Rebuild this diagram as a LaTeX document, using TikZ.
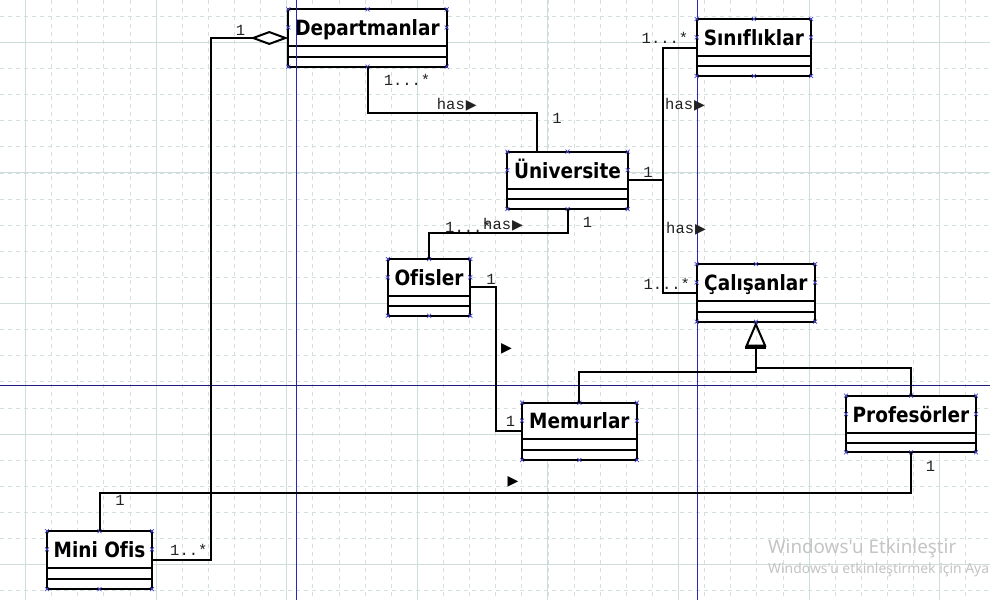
\documentclass[tikz,border=0pt]{standalone}
\usepackage{fontspec}
\setmainfont{Liberation Sans}
\newfontfamily\monofont{Liberation Mono}
\newfontfamily\symfont{DejaVu Sans}
\newfontfamily\namefont[FakeStretch=0.88,Ligatures=NoCommon]{DejaVu Sans Bold}
\newfontfamily\wmfont{Noto Sans}
\usetikzlibrary{arrows.meta}
\definecolor{gridc}{HTML}{D4E0E0}
\definecolor{gridm}{HTML}{CFDCDC}
\definecolor{guideblue}{HTML}{2828B4}
\definecolor{guidenavy}{HTML}{1E1E78}
\definecolor{labelc}{HTML}{222222}
\definecolor{handlec}{HTML}{4B4BD2}
\definecolor{wmc}{HTML}{C4C4C4}
\tikzset{
 minorgrid/.style={draw=gridc, line width=0.8pt, dash pattern=on 4pt off 4pt},
 majorgrid/.style={draw=gridm, line width=1pt},
 guide/.style={draw=guideblue, line width=1pt},
 guideh/.style={draw=guidenavy, line width=1pt},
 classbox/.style={draw=black, fill=white, line width=2pt, inner sep=0pt, outer sep=0pt, anchor=north west},
 divider/.style={draw=black, line width=2pt},
 classname/.style={font=\namefont\fontsize{21}{24}\selectfont, inner sep=0pt, anchor=base},
 assoc/.style={draw=black, line width=2pt},
 mult/.style={font=\monofont\fontsize{15.5}{17}\selectfont, text=labelc, inner sep=0pt},
 dirmark/.style={font=\symfont\fontsize{14}{14}\selectfont, text=black, inner sep=0pt},
 handle/.style={draw=handlec, line width=0.7pt},
 wmbig/.style={font=\wmfont\fontsize{18.8}{20}\selectfont, text=wmc, inner sep=0pt, anchor=base west},
 wmsmall/.style={font=\wmfont\fontsize{13.9}{15}\selectfont, text=wmc, inner sep=0pt, anchor=base west},
}
\newcommand\tri{{\symfont\fontsize{14}{14}\selectfont ▶}}
\newcommand\umlclass[8]{%
 \node[classbox, minimum width=#4pt-#2pt, minimum height=#5pt-#3pt] (#1) at (#2,#3) {};
 \draw[divider] (#2,#6) -- (#4,#6) (#2,#7) -- (#4,#7);
 \node[classname] (#1-name) at ({(#2+#4)/2},{(#3+#6)/2+7.8}) {#8};
 \foreach \hx/\hy in {#2/#3, {(#2+#4)/2}/#3, #4/#3, #2/{(#3+#6)/2}, #4/{(#3+#6)/2}, #2/#5, {(#2+#4)/2}/#5, #4/#5}
  {\draw[handle] ({\hx},{\hy}) +(-2,-2) -- +(2,2) +(-2,2) -- +(2,-2);}
}
\begin{document}
\begin{tikzpicture}[x=1pt,y=-1pt]
\useasboundingbox (0,0) rectangle (990,600);
\clip (0,0) rectangle (990,600);
\fill[white] (0,0) rectangle (990,600);
% grid
\foreach \i in {-1,...,37} {\draw[minorgrid] ({25.5+\i*26.12},0) -- ({25.5+\i*26.12},600);}
\foreach \i in {-1,...,22} {\draw[minorgrid] (0,{42.3+\i*26.12}) -- (990,{42.3+\i*26.12});}
\foreach \i in {0,...,7} {\draw[majorgrid] ({25.5+\i*130.6},0) -- ({25.5+\i*130.6},600);}
\foreach \i in {0,...,4} {\draw[majorgrid] (0,{42.3+\i*130.6}) -- (990,{42.3+\i*130.6});}
\draw[guide] (697,0) -- (697,600);
% classes
\umlclass{dep}{288.3}{9.3}{446.7}{66.7}{45.7}{56.7}{Departmanlar}
\umlclass{uni}{507.3}{151.7}{627.7}{209}{188.7}{199}{Üniversite}
\umlclass{sin}{696.7}{19}{811}{76}{55.7}{65.7}{Sınıflıklar}
\umlclass{cal}{696.7}{264}{815}{321.7}{301}{311.7}{Çalışanlar}
\umlclass{ofi}{387.8}{259}{470.3}{315.7}{295.7}{306}{Ofisler}
\umlclass{mem}{522}{402.7}{636.8}{460}{438.7}{450}{Memurlar}
\umlclass{pro}{846}{395.7}{976}{452.3}{432.7}{442.7}{Profesörler}
\umlclass{mini}{47}{531}{152}{589}{567.7}{578.7}{Mini Ofis}
\draw[guide] (296,0) -- (296,600);
\draw[guideh] (0,385.7) -- (990,385.7);
% connectors
\coordinate (aggj) at (211,0 |- dep.west);
\draw[assoc, -{Diamond[open, length=38pt, width=14pt, line width=2pt]}] (mini.east) -| (aggj) -- (dep.west);
\draw[assoc] (dep.south) -- ++(0,46.6) -| ([xshift=-30.8pt]uni.north);
\draw[assoc] (uni.south) -- ++(0,24.3) -| (ofi.north);
\coordinate (jn) at (662.7,0);
\draw[assoc] (sin.west) -- (jn |- sin.west) -- (jn |- cal.west) -- (cal.west);
\draw[assoc] (uni.east) -- (jn |- uni.east);
\coordinate (om) at (496,0);
\draw[assoc] (ofi.east) -- (om |- ofi.east) |- (mem.west);
\coordinate (gl) at (cal.south |- 0,371.7);
\coordinate (gr) at (cal.south |- 0,368.3);
\draw[assoc, -{Triangle[open, length=25pt, width=21pt, line width=2pt]}] (mem.north) |- (gl) -- (cal.south);
\draw[assoc] (pro.north) |- (gr);
\coordinate (gb) at ([yshift=-25.5pt]cal.south);
\draw[line width=3.2pt] ([xshift=-10.5pt]gb) -- ([xshift=10.5pt]gb);
\draw[assoc] (pro.south) -- ++(0,40.4) -| (mini.north);
% labels
\node[mult] (m1) at (240.5,30) {1};
\node[mult] (m2) at (407,80) {1...*};
\node[mult, anchor=west] (h1) at (436.7,105) {has\kern1pt\tri};
\node[mult] (m3) at (557,118.5) {1};
\node[mult] (m4) at (587.5,222.5) {1};
\node[mult, anchor=west] (m5) at (445,226.5) {1...*};
\node[mult, anchor=west] (h2) at (483,225) {has\kern1pt\tri};
\node[mult] (m6) at (648,172) {1};
\node[mult, anchor=west] (m7) at (641.5,38) {1...*};
\node[mult, anchor=west] (h3) at (665,105) {has\kern1pt\tri};
\node[mult, anchor=west] (h4) at (666,228.3) {has\kern1pt\tri};
\node[mult, anchor=west] (m8) at (643.3,283.5) {1...*};
\node[mult] (m9) at (491,279.3) {1};
\node[dirmark] (d1) at (506.5,349) {▶};
\node[mult] (m10) at (510.4,421.7) {1};
\node[mult] (m11) at (930.6,466.7) {1};
\node[dirmark] (d2) at (513,482) {▶};
\node[mult] (m12) at (120,500) {1};
\node[mult, anchor=west] (m13) at (170,550) {1..*};
% watermark
\node[wmbig] (wm1) at (768,553.3) {Windows'u Etkinleştir};
\node[wmsmall] (wm2) at (768,573.3) {Windows'u etkinleştirmek için Aya};
\end{tikzpicture}
\end{document}
